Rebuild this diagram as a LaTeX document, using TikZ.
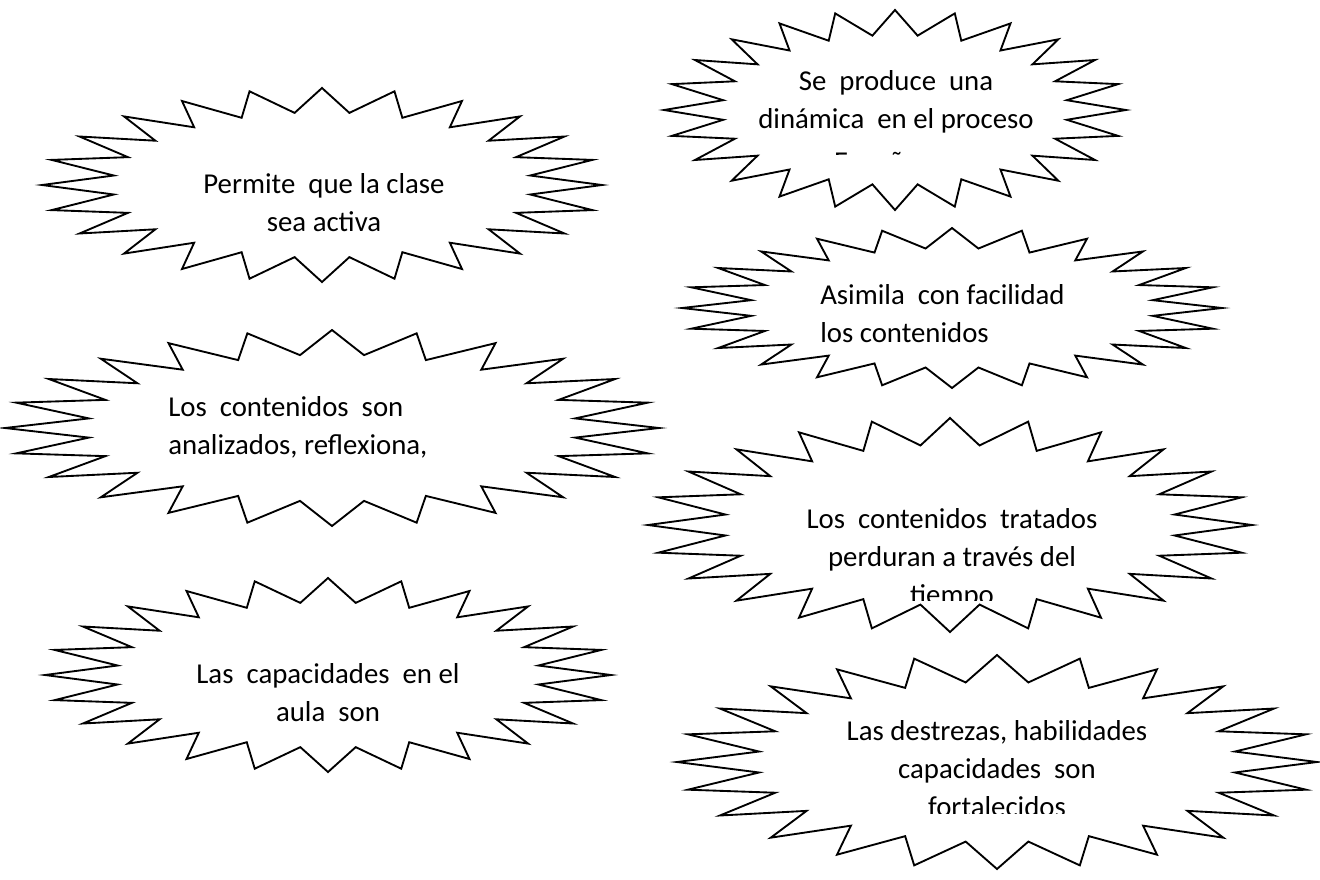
\documentclass[tikz,border=0pt]{standalone}
\usepackage{fontspec}
\setmainfont{Carlito}
\tikzset{
  starline/.style={draw=black, line width=1.4pt, line join=miter, fill=white},
  txt/.style={anchor=base, inner sep=0pt, font=\fontsize{21.6}{28.5}\selectfont},
  txtl/.style={anchor=base west, inner sep=0pt, font=\fontsize{21.6}{28.5}\selectfont},
}
\newcommand{\sealstar}[4]{%
  \draw[starline] ({#1},{#2-#4})
    \foreach \k in {0,...,23} {
      -- ({#1+0.75*#3*cos(82.5-15*\k)},{#2-0.75*#4*sin(82.5-15*\k)})
      -- ({#1+#3*cos(75-15*\k)},{#2-#4*sin(75-15*\k)})
    } -- cycle;
}
\begin{document}
\begin{tikzpicture}[x=0.75pt,y=-0.75pt]
\useasboundingbox (0,0) rectangle (1320,879);
\fill[white] (0,0) rectangle (1320,879);

% left column
\sealstar{322}{185}{280}{97}
\node[txt] (a1) at (324,193) {Permite\ \ que la clase};
\node[txt] (a2) at (324,231) {sea activa};

\sealstar{332}{428}{327}{98}
\node[txtl] (b1) at (168,416) {Los\ \ contenidos\ \ son};
\node[txtl] (b2) at (168,454) {analizados, reflexiona,};

\sealstar{328}{675}{283}{97}
\node[txt] (c1) at (328,683) {Las\ \ capacidades\ \ en el};
\node[txt] (c2) at (328,721) {aula\ \ son};

% right column
\sealstar{895}{110}{231}{100}
\node[txt] (d1) at (896,90) {Se\ \ produce\ \ una};
\node[txt] (d2) at (896,128) {dinámica\ \ en el proceso};
\begin{scope}
  \clip (700,140) rectangle (1100,154);
  \node[txt] (d3) at (896,171) {Enseñanza};
\end{scope}

\sealstar{952}{308}{270}{80}
\node[txtl] (e1) at (820,304) {Asimila\ \ con facilidad};
\node[txtl] (e2) at (820,342) {los contenidos};

\sealstar{950}{525}{302}{107}
\node[txt] (f1) at (952,528) {Los\ \ contenidos\ \ tratados};
\node[txt] (f2) at (952,566) {perduran a través del};
\begin{scope}
  \clip (800,572) rectangle (1100,600);
  \node[txt] (f3) at (952,604) {tiempo};
\end{scope}

\sealstar{997}{762}{320}{107}
\node[txt] (g1) at (997,740) {Las destrezas, habilidades};
\node[txt] (g2) at (997,778) {capacidades\ \ son};
\begin{scope}
  \clip (800,784) rectangle (1200,813);
  \node[txt] (g3) at (997,816) {fortalecidos};
\end{scope}
\end{tikzpicture}
\end{document}
